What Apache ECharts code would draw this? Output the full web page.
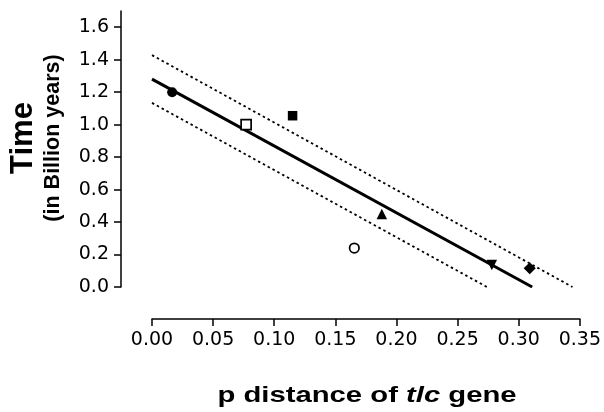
<!DOCTYPE html>
<html>
<head>
<meta charset="utf-8">
<script src="https://cdn.jsdelivr.net/npm/echarts@6/dist/echarts.min.js"></script>
<style>
html,body{margin:0;padding:0;background:#fff;}
#chart{width:604px;height:412px;}
</style>
</head>
<body>
<div id="chart"></div>
<script>
// Data
const pDistance = [0.0165, 0.077, 0.115, 0.1655, 0.188, 0.278, 0.309];
const timeGyr   = [1.20,   1.00,  1.055, 0.24,   0.45,  0.135, 0.115];
const pointSymbols = ['circle', 'rect', 'rect', 'circle', 'triangle', 'triangle', 'rect'];
const pointFilled  = [true, false, true, false, true, true, true];
const pointRotate  = [0, 0, 0, 0, 0, 180, 45];
const pointSizes   = [10, 10, 9.5, 9.5, 10.5, 10.5, 8.5];

const fitX = [0, 0.311];
const fitY = [1.28, 0];
const upperX = [0, 0.344];
const upperY = [1.428, 0];
const lowerX = [0, 0.274];
const lowerY = [1.134, 0];

const xTicks = [0, 0.05, 0.10, 0.15, 0.20, 0.25, 0.30, 0.35];
const yTicks = [0, 0.2, 0.4, 0.6, 0.8, 1.0, 1.2, 1.4, 1.6];

const xTitleParts = ['p distance of ', 'tlc', ' gene'];
const yTitle = 'Time';
const ySubTitle = '(in Billion years)';

const chart = echarts.init(document.getElementById('chart'), null, {renderer: 'canvas'});
const FONT = '"Liberation Sans", Arial, Helvetica, sans-serif';
const TICKFONT = '"DejaVu Sans", "Liberation Sans", sans-serif';

function pairs(xs, ys) { return xs.map((x, i) => [x, ys[i]]); }

const pointSeries = pDistance.map((x, i) => ({
  type: 'scatter',
  data: [[x, timeGyr[i]]],
  symbol: pointSymbols[i],
  symbolSize: pointSizes[i],
  symbolRotate: pointRotate[i],
  itemStyle: pointFilled[i]
    ? {color: '#000', borderColor: '#000', borderWidth: 0, opacity: 1}
    : {color: '#fff', borderColor: '#000', borderWidth: 1.7, opacity: 1},
  z: 5,
  silent: true
}));

const lineSeries = [
  {xs: fitX, ys: fitY, style: {color: '#000', width: 3, type: 'solid'}},
  {xs: upperX, ys: upperY, style: {color: '#000', width: 1.8, type: [2.5, 3]}},
  {xs: lowerX, ys: lowerY, style: {color: '#000', width: 1.8, type: [2.5, 3]}}
].map(l => ({
  type: 'line',
  data: pairs(l.xs, l.ys),
  showSymbol: false,
  symbol: 'none',
  lineStyle: l.style,
  z: 3,
  silent: true,
  animation: false
}));

const option = {
  animation: false,
  backgroundColor: '#fff',
  grid: {left: 152, right: 22, top: 11, bottom: 125, containLabel: false},
  xAxis: {
    type: 'value',
    min: 0, max: 0.35, interval: 0.05,
    offset: 32,
    axisLine: {show: true, onZero: false, lineStyle: {color: '#000', width: 1.5}},
    axisTick: {show: true, inside: false, length: 7, lineStyle: {color: '#000', width: 1.5}},
    axisLabel: {
      color: '#000', fontFamily: TICKFONT, fontSize: 19, margin: 12,
      formatter: v => v.toFixed(2),
      customValues: xTicks
    },
    splitLine: {show: false}
  },
  yAxis: {
    type: 'value',
    min: 0, max: 1.7, interval: 0.2,
    offset: 31,
    axisLine: {show: true, onZero: false, lineStyle: {color: '#000', width: 1.5}},
    axisTick: {show: true, inside: false, length: 7, lineStyle: {color: '#000', width: 1.5}, customValues: yTicks},
    axisLabel: {
      color: '#000', fontFamily: TICKFONT, fontSize: 19, margin: 12,
      formatter: v => v.toFixed(1),
      customValues: yTicks
    },
    splitLine: {show: false}
  },
  graphic: [
    {
      type: 'text', x: 23, y: 138, rotation: Math.PI / 2,
      style: {text: yTitle, font: 'bold 31px ' + FONT, fill: '#000', align: 'center', verticalAlign: 'middle'}
    },
    {
      type: 'text', x: 53, y: 138, rotation: Math.PI / 2,
      style: {text: ySubTitle, font: 'bold 21.5px ' + FONT, fill: '#000', align: 'center', verticalAlign: 'middle'}
    },
    {
      type: 'text', x: 367, y: 396, scaleX: 1.33,
      style: {
        text: '{a|' + xTitleParts[0] + '}{b|' + xTitleParts[1] + '}{a|' + xTitleParts[2] + '}',
        align: 'center', verticalAlign: 'middle',
        rich: {
          a: {fontFamily: FONT, fontWeight: 'bold', fontSize: 22, fill: '#000', color: '#000'},
          b: {fontFamily: FONT, fontWeight: 'bold', fontStyle: 'italic', fontSize: 22, fill: '#000', color: '#000'}
        }
      }
    }
  ],
  series: lineSeries.concat(pointSeries)
};

chart.setOption(option);
</script>
</body>
</html>
